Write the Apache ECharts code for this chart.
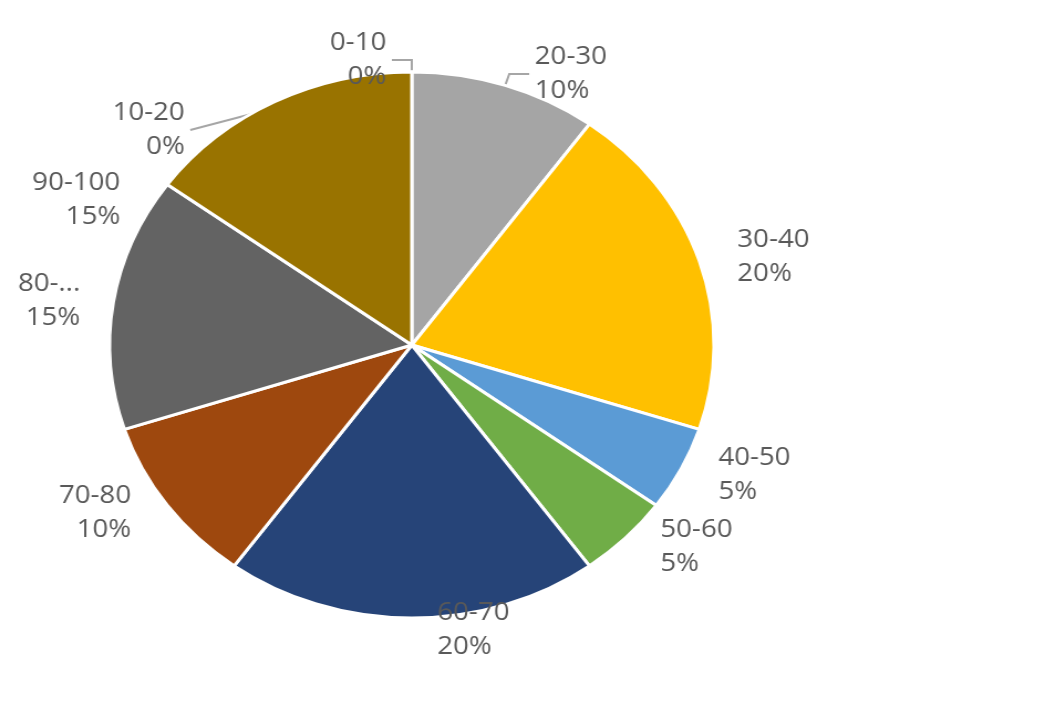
<!DOCTYPE html>
<html><head><meta charset="utf-8">
<script src="https://cdn.jsdelivr.net/npm/echarts@6/dist/echarts.min.js"></script>
<style>html,body{margin:0;padding:0;background:#fff;overflow:hidden}
#c{width:954px;height:704px;transform:scaleX(1.107);transform-origin:0 0}</style>
</head><body><div id="c"></div>
<script>
const categories=['0-10','10-20','20-30','30-40','40-50','50-60','60-70','70-80','80-90','90-100'];
const values=[0,0,10,20,5,5,20,10,15,15];
const colors=['#4472C4','#ED7D31','#A5A5A5','#FFC000','#5B9BD5','#70AD47','#264478','#9E480E','#636363','#997300'];
const withLine=[true,true,true,false,false,false,false,false,false,false];
const chart=echarts.init(document.getElementById('c'));
chart.setOption({
 animation:false,
 series:[{type:'pie',center:[372,345],radius:273,startAngle:90,clockwise:true,
  avoidLabelOverlap:true,
  itemStyle:{borderColor:'#fff',borderWidth:3},
  label:{show:true,position:'outside',formatter:p=>p.name+'\n'+Math.round(p.percent)+'%',
   color:'#595959',fontSize:25,lineHeight:34,fontFamily:'Open Sans',align:'center'},
  labelLine:{length:12,length2:18,lineStyle:{color:'#A6A6A6',width:2}},
  data:categories.map((n,i)=>({name:n,value:values[i],itemStyle:{color:colors[i]},
   labelLine:{show:withLine[i]}}))
 }]
});
</script></body></html>
